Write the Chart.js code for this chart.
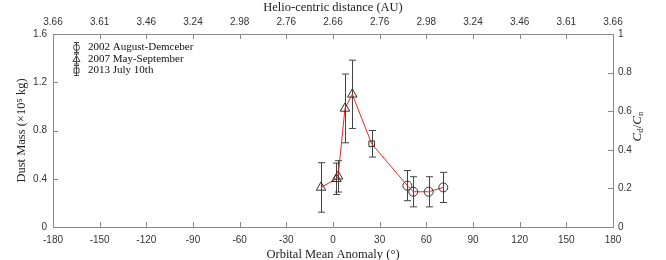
<!DOCTYPE html>
<html>
<head>
<meta charset="utf-8">
<script src="https://cdn.jsdelivr.net/npm/chart.js@4.4.0/dist/chart.umd.min.js"></script>
<style>
  html, body { margin: 0; padding: 0; background: #fff; }
  #wrap { width: 666px; height: 260px; }
</style>
</head>
<body>
<div id="wrap"><canvas id="myChart"></canvas></div>
<script>
// orbital mean anomaly (deg), dust mass (x10^5 kg) and its +/- error
const aug2002X = [47.8, 51.6, 61.5, 70.9]
const aug2002Y = [0.343, 0.292, 0.292, 0.328]
const aug2002Err = [0.125, 0.125, 0.125, 0.125]

const may2007X = [-7.7, 2.2, 3.3, 7.7, 12.4]
const may2007Y = [0.328, 0.40, 0.42, 0.983, 1.10]
const may2007Err = [0.205, 0.13, 0.13, 0.285, 0.283]

const jul2013X = [24.9]
const jul2013Y = [0.69]
const jul2013Err = [0.11]

const seriesNames = ['2002 August-Demceber', '2007 May-September', '2013 July 10th']
const distanceLabels = ['3.66', '3.61', '3.46', '3.24', '2.98', '2.76', '2.66', '2.76', '2.98', '3.24', '3.46', '3.61', '3.66']

const frameColor = '#888'
const textColor = '#333'
const serif = "'Liberation Serif', 'Times New Roman', serif"
const sans = "'Liberation Sans', Arial, sans-serif"

let toPoints = (xs, ys) => xs.map((x, i) => ({ x: x, y: ys[i] }))

// red line through every measurement, ordered by anomaly
let allPoints = toPoints(may2007X, may2007Y)
    .concat(toPoints(jul2013X, jul2013Y))
    .concat(toPoints(aug2002X, aug2002Y))
    .sort((a, b) => a.x - b.x)

let errorBars = {
    id: 'errorBars',
    beforeDatasetsDraw(chart) {
        const ctx = chart.ctx
        const xs = chart.scales.x, ys = chart.scales.y
        ctx.save()
        ctx.strokeStyle = '#444'
        ctx.lineWidth = 1
        chart.data.datasets.forEach(ds => {
            if (!ds.errors) return
            ds.data.forEach((p, i) => {
                let px = Math.round(xs.getPixelForValue(p.x)) + 0.5
                let top = ys.getPixelForValue(p.y + ds.errors[i])
                let bot = ys.getPixelForValue(p.y - ds.errors[i])
                ctx.beginPath()
                ctx.moveTo(px, top); ctx.lineTo(px, bot)
                ctx.moveTo(px - 3.5, top); ctx.lineTo(px + 3.5, top)
                ctx.moveTo(px - 3.5, bot); ctx.lineTo(px + 3.5, bot)
                ctx.stroke()
            })
        })
        ctx.restore()
    }
}

let innerTicks = {
    id: 'innerTicks',
    afterDraw(chart) {
        const ctx = chart.ctx, a = chart.chartArea
        ctx.save()
        ctx.strokeStyle = frameColor
        ctx.lineWidth = 1
        ctx.beginPath()
        chart.scales.x.ticks.forEach(t => {
            let px = Math.round(chart.scales.x.getPixelForValue(t.value)) + 0.5
            ctx.moveTo(px, a.bottom); ctx.lineTo(px, a.bottom - 5)
            ctx.moveTo(px, a.top); ctx.lineTo(px, a.top + 5)
        })
        chart.scales.y.ticks.forEach(t => {
            let py = Math.round(chart.scales.y.getPixelForValue(t.value)) + 0.5
            ctx.moveTo(a.left, py); ctx.lineTo(a.left + 5, py)
        })
        chart.scales.y2.ticks.forEach(t => {
            let py = Math.round(chart.scales.y2.getPixelForValue(t.value)) + 0.5
            ctx.moveTo(a.right, py); ctx.lineTo(a.right - 5, py)
        })
        ctx.stroke()
        ctx.restore()
    }
}

let drawGlyph = (ctx, style, x, y) => {
    ctx.beginPath()
    ctx.moveTo(x, y - 5); ctx.lineTo(x, y + 5)
    ctx.moveTo(x - 2.5, y - 5); ctx.lineTo(x + 2.5, y - 5)
    ctx.moveTo(x - 2.5, y + 5); ctx.lineTo(x + 2.5, y + 5)
    ctx.stroke()
    ctx.beginPath()
    if (style === 'circle') ctx.arc(x, y, 3, 0, Math.PI * 2)
    else if (style === 'triangle') { ctx.moveTo(x, y - 3.5); ctx.lineTo(x + 3.5, y + 2.5); ctx.lineTo(x - 3.5, y + 2.5); ctx.closePath() }
    else ctx.rect(x - 2.5, y - 2.5, 5, 5)
    ctx.stroke()
}

let legendAndTitle = {
    id: 'legendAndTitle',
    afterDraw(chart) {
        const ctx = chart.ctx, a = chart.chartArea
        ctx.save()
        // legend in the upper left corner
        ctx.strokeStyle = '#444'
        ctx.lineWidth = 1
        ctx.fillStyle = '#111'
        ctx.font = '11px ' + serif
        ctx.textBaseline = 'middle'
        chart.data.datasets.filter(ds => ds.errors).forEach((ds, i) => {
            let y = a.top + 13.5 + i * 11.5
            drawGlyph(ctx, ds.pointStyle, 76.5, y)
            ctx.fillText(ds.label, 88, y)
        })
        // right axis title C_d / C_n
        let parts = [
            { t: 'C', f: 'italic 13px ' + serif, dy: 0 },
            { t: 'd', f: '9px ' + serif, dy: 3 },
            { t: '/', f: '13px ' + serif, dy: 0 },
            { t: 'C', f: 'italic 13px ' + serif, dy: 0 },
            { t: 'n', f: '9px ' + serif, dy: 3 }
        ]
        let total = 0
        parts.forEach(p => { ctx.font = p.f; p.w = ctx.measureText(p.t).width; total += p.w })
        ctx.translate(638, (a.top + a.bottom) / 2 - 4)
        ctx.rotate(-Math.PI / 2)
        ctx.fillStyle = '#222'
        ctx.textBaseline = 'middle'
        let cx = -total / 2
        parts.forEach(p => { ctx.font = p.f; ctx.fillText(p.t, cx, p.dy); cx += p.w })
        ctx.restore()
    }
}

let fixedSize = (size) => (scale) => {
    if (scale.isHorizontal()) scale.height = size
    else scale.width = size
}

let plot = () => {
    const ctx = document.getElementById('myChart')

    const dataset = {
        datasets: [{
            label: 'line',
            data: allPoints,
            showLine: true,
            borderColor: '#ff2020',
            borderWidth: 1,
            pointRadius: 0,
            order: 1
        }, {
            label: seriesNames[0],
            data: toPoints(aug2002X, aug2002Y),
            errors: aug2002Err,
            pointStyle: 'circle',
            pointRadius: 4.5,
            borderColor: '#333',
            borderWidth: 1,
            backgroundColor: 'rgba(0,0,0,0)',
            order: 0
        }, {
            label: seriesNames[1],
            data: toPoints(may2007X, may2007Y),
            errors: may2007Err,
            pointStyle: 'triangle',
            pointRadius: 5.5,
            borderColor: '#333',
            borderWidth: 1,
            backgroundColor: 'rgba(0,0,0,0)',
            order: 0
        }, {
            label: seriesNames[2],
            data: toPoints(jul2013X, jul2013Y),
            errors: jul2013Err,
            pointStyle: 'rect',
            pointRadius: 4,
            borderColor: '#333',
            borderWidth: 1,
            backgroundColor: 'rgba(0,0,0,0)',
            order: 0
        }]
    }

    const config = {
        type: 'scatter',
        data: dataset,
        plugins: [errorBars, innerTicks, legendAndTitle],
        options: {
            responsive: true,
            maintainAspectRatio: false,
            animation: false,
            layout: { padding: 0 },
            plugins: { legend: { display: false }, tooltip: { enabled: false } },
            scales: {
                x: {
                    type: 'linear', position: 'bottom', min: -180, max: 180,
                    afterFit: fixedSize(33),
                    grid: { display: true, drawOnChartArea: false, drawTicks: false },
                    border: { color: frameColor },
                    ticks: { stepSize: 30, autoSkip: false, maxRotation: 0, padding: 7, color: textColor, font: { family: sans, size: 10 } },
                    title: { display: true, text: 'Orbital Mean Anomaly (°)', color: '#222', padding: { top: 0, bottom: -2 }, font: { family: serif, size: 12.5 } }
                },
                x2: {
                    type: 'linear', position: 'top', min: -180, max: 180,
                    afterFit: fixedSize(34),
                    grid: { display: true, drawOnChartArea: false, drawTicks: false },
                    border: { color: frameColor },
                    ticks: {
                        stepSize: 30, autoSkip: false, maxRotation: 0, padding: 6, color: textColor, font: { family: sans, size: 10 },
                        callback: (value, index) => distanceLabels[index]
                    },
                    title: { display: true, text: 'Helio-centric distance (AU)', color: '#222', padding: { top: 0.5, bottom: 0 }, font: { family: serif, size: 12.5 } }
                },
                y: {
                    position: 'left', min: 0, max: 1.6,
                    afterFit: fixedSize(53),
                    grid: { display: true, drawOnChartArea: false, drawTicks: false },
                    border: { color: frameColor },
                    ticks: { stepSize: 0.4, padding: 6, color: textColor, font: { family: sans, size: 10 } },
                    title: { display: true, text: 'Dust Mass (×10⁵ kg)', color: '#222', padding: { top: 14.5, bottom: 0 }, font: { family: serif, size: 12.5 } }
                },
                y2: {
                    position: 'right', min: 0, max: 1,
                    afterFit: fixedSize(53),
                    grid: { display: true, drawOnChartArea: false, drawTicks: false },
                    border: { color: frameColor },
                    ticks: {
                        stepSize: 0.2, padding: 5, color: textColor, font: { family: sans, size: 10 },
                        callback: (value) => String(Math.round(value * 10) / 10)
                    }
                }
            }
        }
    }

    const chart = new Chart(ctx, config)
}

plot();
</script>
</body>
</html>
